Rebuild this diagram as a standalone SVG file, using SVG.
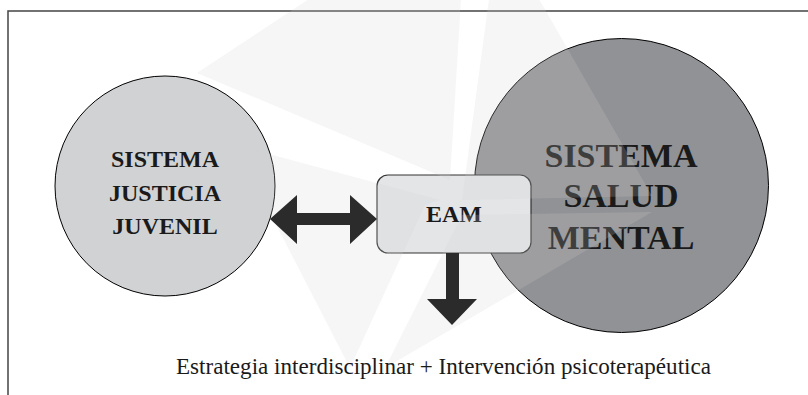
<svg xmlns="http://www.w3.org/2000/svg" width="808" height="395" viewBox="0 0 808 395">
  <style>
    .frame { fill: none; stroke: #444; stroke-width: 1.5; }
    .node-text { font-family: "Liberation Serif", "Times New Roman", serif; font-weight: bold; text-anchor: middle; fill: #1a1a1a; }
    .small { font-size: 24px; }
    .big { font-size: 34px; }
    .caption { font-family: "Liberation Serif", "Times New Roman", serif; font-size: 23px; fill: #1a1a1a; }
    .wm { fill: rgb(210,210,210); fill-opacity: 0.2; }
    .arrow { fill: #2b2b2b; }
  </style>
  <rect x="0" y="0" width="808" height="395" fill="#ffffff"/>
  <path class="frame" d="M8,395 V11 H808"/>

  <g id="node-justicia">
    <circle cx="165" cy="186" r="110" fill="#d1d2d4" stroke="#000" stroke-width="1"/>
    <text class="node-text small" x="165" y="167">SISTEMA</text>
    <text class="node-text small" x="165" y="201">JUSTICIA</text>
    <text class="node-text small" x="165" y="234">JUVENIL</text>
  </g>

  <g id="node-salud">
    <circle cx="621.5" cy="185.5" r="147" fill="#919295" stroke="#000" stroke-width="1"/>
    <text class="node-text big" x="621" y="167">SISTEMA</text>
    <text class="node-text big" x="621" y="207">SALUD</text>
    <text class="node-text big" x="621" y="249">MENTAL</text>
  </g>

  <g id="node-eam">
    <rect x="377" y="175" width="154" height="78" rx="11" ry="11" fill="#e4e5e7" stroke="#333" stroke-width="1.2"/>
    <text class="node-text small" x="454" y="222">EAM</text>
  </g>

  <g id="watermark">
    <polygon class="wm" points="197,73 309,-1 461,-1 450,180"/>
    <polygon class="wm" points="489,-1 539,-1 652,196 462,200"/>
    <polygon class="wm" points="385,368 462,215 652,212"/>
    <polygon class="wm" points="350,368 235,145 440,200 425,205"/>
  </g>

  <g id="connectors">
    <polygon class="arrow" points="270,219 297,195 297,213 350,213 350,195 377,219 350,244 350,225 297,225 297,244"/>
    <polygon class="arrow" points="446,253 459,253 459,299 477,299 452,325 427,299 446,299"/>
  </g>

  <text class="caption" x="176" y="374" textLength="535" lengthAdjust="spacingAndGlyphs">Estrategia interdisciplinar + Intervención psicoterapéutica</text>
</svg>
